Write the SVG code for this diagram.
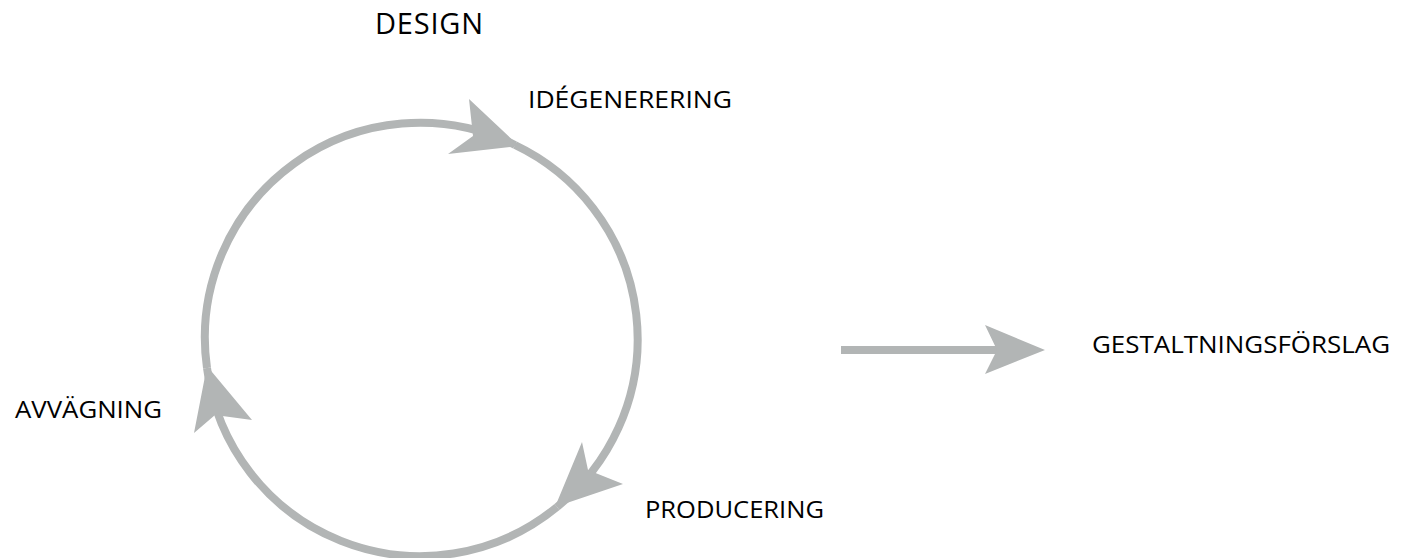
<svg xmlns="http://www.w3.org/2000/svg" width="1411" height="558" viewBox="0 0 1411 558">
<style>
.lbl{font-family:"Open Sans","Liberation Sans",sans-serif;font-size:24px;fill:#000}
.ln{fill:none;stroke:#b2b5b5;stroke-width:8}
.hd{fill:#b2b5b5;stroke:none}
</style>
<rect width="1411" height="558" fill="#fff"/>
<g id="title"><text class="lbl" x="375" y="34" style="font-size:29px" textLength="108">DESIGN</text></g>
<g id="connectors">
<path class="ln" d="M207,368 A215,215 0 0 1 515,145"/>
<path class="ln" d="M515,145 A215,215 0 0 1 557,507"/>
<path class="ln" d="M557,507 A215,215 0 0 1 207,368"/>
<polygon class="hd" points="519,146 469,99 473,136 448,154"/>
<polygon class="hd" points="555,507 582,442 588,470 623,484"/>
<polygon class="hd" points="207,366 194,433 215,415 252,420"/>
<line class="ln" x1="841" y1="350" x2="1000" y2="350"/>
<polygon class="hd" points="1045,350 985,325 997,350 985,374"/>
</g>
<g id="idegenerering"><text class="lbl" x="528" y="108" textLength="204" lengthAdjust="spacingAndGlyphs">IDÉGENERERING</text></g>
<g id="producering"><text class="lbl" x="645" y="518" textLength="179" lengthAdjust="spacingAndGlyphs">PRODUCERING</text></g>
<g id="avvagning"><text class="lbl" x="15" y="418" textLength="147" lengthAdjust="spacingAndGlyphs">AVVÄGNING</text></g>
<g id="gestaltningsforslag"><text class="lbl" x="1092" y="353" textLength="298" lengthAdjust="spacingAndGlyphs">GESTALTNINGSFÖRSLAG</text></g>
</svg>
